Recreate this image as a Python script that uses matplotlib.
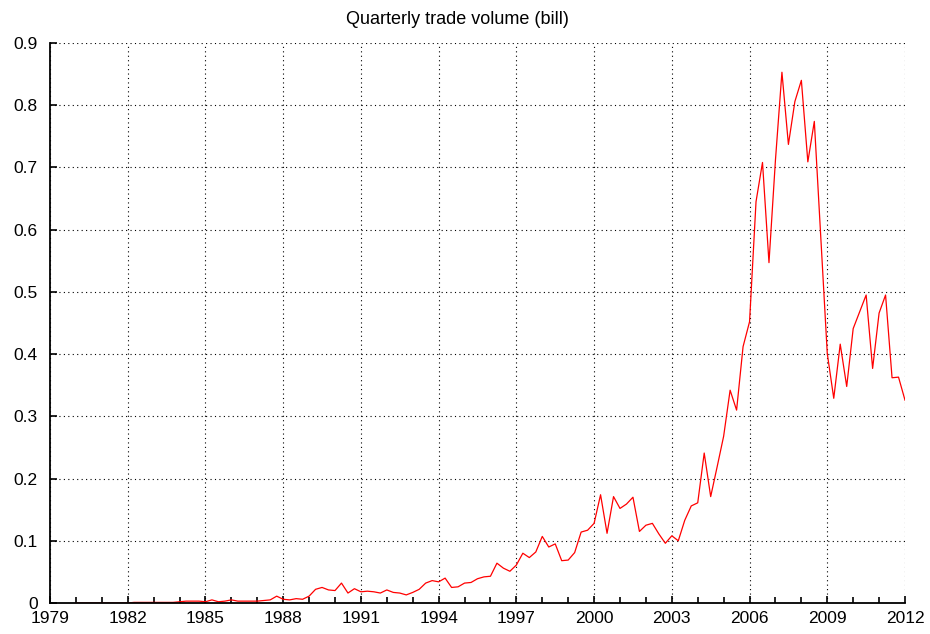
import matplotlib
matplotlib.use('Agg')
import matplotlib.pyplot as plt
import numpy as np

# quarterly series, first quarter 1980 Q1
start_year = 1980
volume = [
    0.000, 0.000, 0.000, 0.000, 0.000, 0.000, 0.000, 0.000,
    0.000, 0.001, 0.001, 0.001, 0.001, 0.001, 0.001, 0.001,
    0.002, 0.003, 0.003, 0.003, 0.002, 0.005, 0.002, 0.003,
    0.005, 0.003, 0.003, 0.003, 0.003, 0.004, 0.005, 0.011,
    0.006, 0.005, 0.007, 0.006, 0.011, 0.022, 0.025, 0.021,
    0.020, 0.032, 0.016, 0.023, 0.018, 0.019, 0.018, 0.016,
    0.021, 0.017, 0.016, 0.013, 0.017, 0.022, 0.032, 0.036,
    0.034, 0.040, 0.025, 0.026, 0.032, 0.033, 0.039, 0.042,
    0.043, 0.064, 0.056, 0.051, 0.061, 0.080, 0.073, 0.082,
    0.107, 0.090, 0.095, 0.068, 0.069, 0.081, 0.114, 0.117,
    0.128, 0.174, 0.112, 0.171, 0.152, 0.159, 0.170, 0.115,
    0.125, 0.128, 0.111, 0.096, 0.108, 0.100, 0.133, 0.156,
    0.161, 0.241, 0.171, 0.219, 0.268, 0.342, 0.310, 0.412,
    0.452, 0.645, 0.708, 0.547, 0.712, 0.853, 0.737, 0.806,
    0.840, 0.709, 0.774, 0.589, 0.401, 0.329, 0.416, 0.348,
    0.441, 0.468, 0.495, 0.377, 0.466, 0.495, 0.362, 0.363,
    0.326,
]
x_ticks = list(range(1979, 2013, 3))
y_ticks = [0, 0.1, 0.2, 0.3, 0.4, 0.5, 0.6, 0.7, 0.8, 0.9]
y_labels = ['0', '0.1', '0.2', '0.3', '0.4', '0.5', '0.6', '0.7', '0.8', '0.9']

plt.rcParams['font.family'] = ['Liberation Sans', 'DejaVu Sans']

quarters = start_year + np.arange(len(volume)) / 4.0

fig = plt.figure(figsize=(9.3, 6.34), dpi=100)
ax = fig.add_axes([50 / 930, 31 / 634, 855 / 930, 560 / 634])

ax.plot(quarters, volume, color='red', linewidth=0.9)

ax.set_xlim(1979, 2012)
ax.set_ylim(0, 0.9)
ax.set_xticks(x_ticks)
ax.set_xticks(range(1979, 2013), minor=True)
ax.set_yticks(y_ticks)
ax.set_yticklabels(y_labels)

ax.grid(True, which='major', color='black', linestyle=(0, (1, 3)), linewidth=0.8)
ax.tick_params(which='both', direction='in', labelsize=12.5, width=1.2)
ax.tick_params(which='major', length=5)
ax.tick_params(which='minor', length=4)
ax.tick_params(axis='x', pad=6)
ax.tick_params(axis='y', pad=9)

for side in ['top', 'right']:
    ax.spines[side].set_visible(False)
for side in ['left', 'bottom']:
    ax.spines[side].set_linewidth(1.3)

ax.set_title('Quarterly trade volume (bill)', fontsize=13, pad=14, x=0.476)

fig.savefig('out.png', dpi=100)
